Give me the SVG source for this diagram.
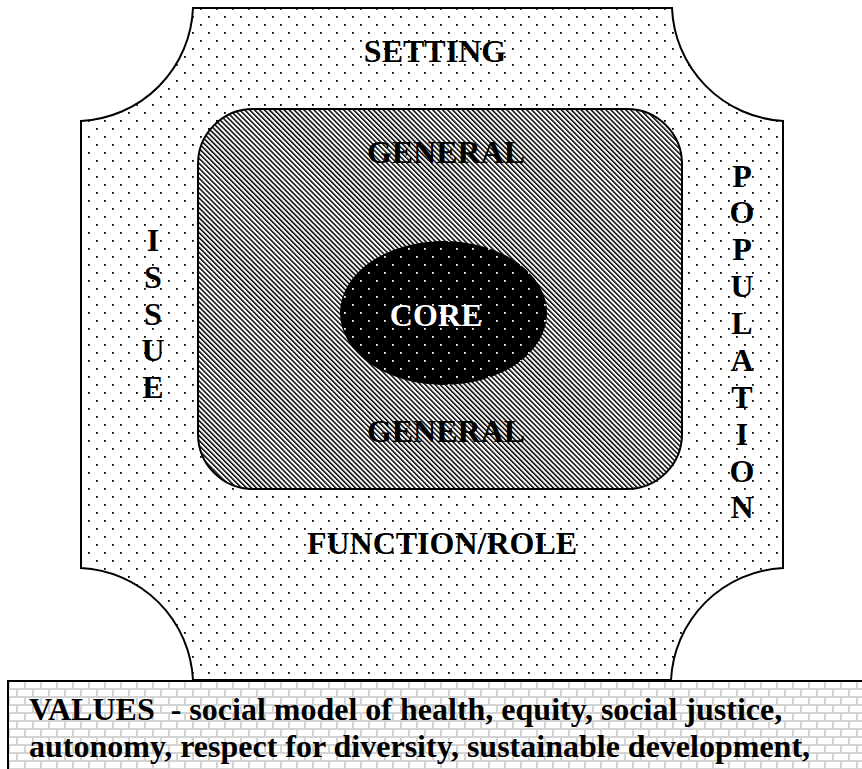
<svg xmlns="http://www.w3.org/2000/svg" width="862" height="769" viewBox="0 0 862 769">
<style>
text{font-family:'Liberation Serif','Times New Roman',serif;font-weight:bold;font-size:32px;fill:#000}
.c{text-anchor:middle}
.ln{stroke:#000;stroke-width:2}
</style>
<defs>
<pattern id="dots" width="16" height="16" patternUnits="userSpaceOnUse">
<rect x="0" y="0" width="1.8" height="1.8" fill="#000"/>
<rect x="8" y="8" width="1.8" height="1.8" fill="#000"/>
</pattern>
<pattern id="wdots" width="16" height="16" patternUnits="userSpaceOnUse">
<rect x="0" y="0" width="1.8" height="1.8" fill="#fff"/>
<rect x="8" y="8" width="1.8" height="1.8" fill="#fff"/>
</pattern>
<pattern id="hatch" width="3.5" height="3.5" patternUnits="userSpaceOnUse" patternTransform="rotate(-45)">
<rect x="0" y="0" width="1.5" height="3.5" fill="#000"/>
</pattern>
<pattern id="brick" width="16" height="16" patternUnits="userSpaceOnUse">
<rect width="16" height="16" fill="#fff"/>
<rect x="0" y="0" width="16" height="2" fill="#d4d4d4"/>
<rect x="0" y="8" width="16" height="2" fill="#d4d4d4"/>
<rect x="0" y="0" width="2" height="8" fill="#d4d4d4"/>
<rect x="8" y="8" width="2" height="8" fill="#d4d4d4"/>
</pattern>
</defs>
<g id="values">
<rect x="8" y="681" width="870" height="100" fill="url(#brick)" class="ln"/>
<text x="29" y="720" xml:space="preserve">VALUES  - social model of health, equity, social justice,</text>
<text x="29" y="757">autonomy, respect for diversity, sustainable development,</text>
</g>
<g id="outer">
<path d="M193,8 L672,8 A118,118 0 0 0 783,121 L783,568 A118,118 0 0 0 671,680 L193,680 A118,118 0 0 0 81,568 L81,121 A118,118 0 0 0 193,8 Z" fill="#fff"/>
<path d="M193,8 L672,8 A118,118 0 0 0 783,121 L783,568 A118,118 0 0 0 671,680 L193,680 A118,118 0 0 0 81,568 L81,121 A118,118 0 0 0 193,8 Z" fill="url(#dots)" class="ln"/>
<text class="c" x="435" y="62">SETTING</text>
<text class="c" x="442" y="554">FUNCTION/ROLE</text>
<g class="c">
<text x="153" y="251">I</text>
<text x="153" y="288">S</text>
<text x="153" y="325">S</text>
<text x="153" y="361">U</text>
<text x="153" y="398">E</text>
</g>
<g class="c">
<text x="742" y="187">P</text>
<text x="742" y="223">O</text>
<text x="742" y="260">P</text>
<text x="742" y="297">U</text>
<text x="742" y="334">L</text>
<text x="742" y="371">A</text>
<text x="742" y="408">T</text>
<text x="742" y="445">I</text>
<text x="742" y="482">O</text>
<text x="742" y="518">N</text>
</g>
</g>
<g id="general">
<rect x="198" y="109" width="484" height="380" rx="55" ry="55" fill="#fff"/>
<rect x="198" y="109" width="484" height="380" rx="55" ry="55" fill="url(#hatch)" class="ln"/>
<text class="c" x="446" y="163">GENERAL</text>
<text class="c" x="446" y="442">GENERAL</text>
</g>
<g id="core">
<ellipse cx="443.5" cy="313" rx="103.5" ry="72" fill="#000"/>
<ellipse cx="443.5" cy="313" rx="103.5" ry="72" fill="url(#wdots)"/>
<text class="c" x="436" y="326" style="fill:#fff">CORE</text>
</g>
<g id="connectors"></g>
</svg>
